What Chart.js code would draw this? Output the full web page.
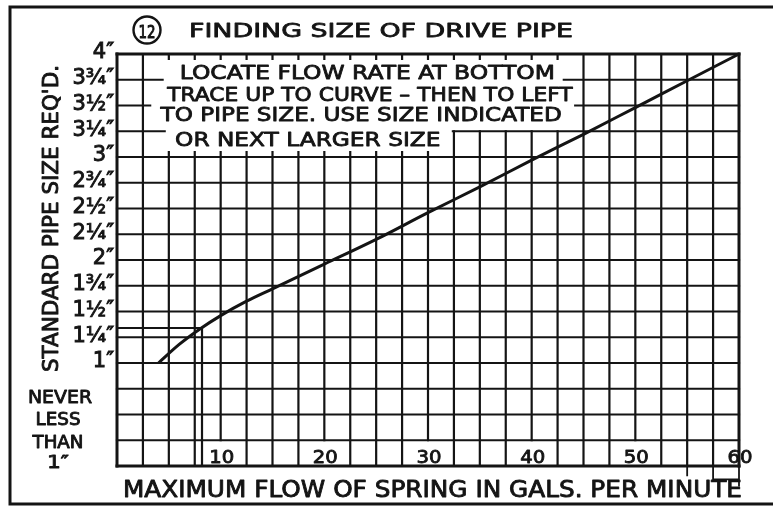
<!DOCTYPE html>
<html>
<head>
<meta charset="utf-8">
<title>Finding size of drive pipe</title>
<style>
  html, body { margin: 0; padding: 0; background: #ffffff; }
  #wrap { width: 773px; height: 509px; }
</style>
</head>
<body>
<div id="wrap"><canvas id="chart" width="773" height="509"></canvas></div>
<script src="https://cdn.jsdelivr.net/npm/chart.js@4/dist/chart.umd.min.js"></script>
<script>
// Spring flow (gallons per minute) against the drive pipe size it calls for (inches)
const flowGpm    = [4, 6, 8, 10, 12.5, 15, 20, 25, 30, 35, 40, 45, 50, 55, 60];
const pipeSizeIn = [1.00, 1.18, 1.33, 1.46, 1.60, 1.72, 1.96, 2.20, 2.46, 2.71, 2.97, 3.22, 3.48, 3.74, 4.00];

// Worked example traced on the chart: about 8 gal/min reads a little over 1 1/4"
const exampleFlow = 8.2;
const exampleSize = 1.34;

// Axis ticks
const sizeTicks      = [1, 1.25, 1.5, 1.75, 2, 2.25, 2.5, 2.75, 3, 3.25, 3.5, 3.75, 4];
const sizeTickLabels = ['1″', '1¼″', '1½″', '1¾″', '2″', '2¼″', '2½″', '2¾″', '3″', '3¼″', '3½″', '3¾″', '4″'];
const flowTicks      = [10, 20, 30, 40, 50, 60];
const flowTickLabels = ['10', '20', '30', '40', '50', '60'];

const FLOW_MAX = 60, FLOW_STEP = 2.5;
const SIZE_MAX = 4, SIZE_STEP = 0.25;

const INK = '#141414';
const FONT = '"DejaVu Sans", "Liberation Sans", sans-serif';
const PEN = 0.9; // extra stroke round the letters for a lettered-by-hand weight

// Where the ruling is left open: the note box in the upper left and the number row
const verticalCuts = [
  { x0: 4.5,  x1: 32.4, y0: 3.00, y1: 4.00, stubTop: true, stubBottom: true },
  { x0: 32.4, x1: 43.1, y0: 3.25, y1: 4.00, stubTop: true },
  { at: flowTicks.filter(v => v < FLOW_MAX), y0: 0, y1: 0.25 }
];
const horizontalCuts = [
  { y: 3.75, x0: 4.4, x1: 43.1 },
  { y: 3.50, x0: 3.2, x1: 44.2 },
  { y: 3.25, x0: 4.6, x1: 32.4 }
];
// Rules that run on a little below the bottom edge
const spillDown = [ { x: 55, to: -0.09 }, { x: 57.5, to: -0.13 }, { x: 60, to: -0.19 } ];
const spillJoin = { y: -0.13, x0: 57.5, x1: 60 };

// Note lines: text, left/right edge and baseline in axis units
const noteLines = [
  { text: 'LOCATE FLOW RATE AT BOTTOM',        x0: 6.05, x1: 42.25, base: 3.757 },
  { text: 'TRACE UP TO CURVE – THEN TO LEFT',  x0: 4.85, x1: 43.95, base: 3.540 },
  { text: 'TO PIPE SIZE. USE SIZE INDICATED',  x0: 4.20, x1: 42.90, base: 3.345 },
  { text: 'OR NEXT LARGER SIZE',               x0: 5.60, x1: 31.20, base: 3.107 }
];

function subtract(segs, a, b) {
  const out = [];
  for (const [s, e] of segs) {
    if (b <= s || a >= e) { out.push([s, e]); continue; }
    if (a > s) out.push([s, a]);
    if (b < e) out.push([b, e]);
  }
  return out;
}

function fitText(ctx, str, xL, xR, yBase, size) {
  ctx.font = 'normal ' + size + 'px ' + FONT;
  const w = ctx.measureText(str).width;
  const sx = (xR - xL) / w;
  ctx.save();
  ctx.translate(xL, yBase);
  ctx.scale(sx, 1);
  ctx.textAlign = 'left';
  ctx.textBaseline = 'alphabetic';
  ctx.lineJoin = 'round';
  ctx.lineWidth = PEN / Math.sqrt(sx);
  ctx.fillText(str, 0, 0);
  ctx.strokeText(str, 0, 0);
  ctx.restore();
}

function centerFit(ctx, str, cx, width, yBase, size) {
  fitText(ctx, str, cx - width / 2, cx + width / 2, yBase, size);
}

const paper = {
  id: 'paper',
  beforeDraw(chart) {
    const { ctx, width, height } = chart;
    ctx.save();
    ctx.fillStyle = '#ffffff';
    ctx.fillRect(0, 0, width, height);
    ctx.restore();
  }
};

const ruling = {
  id: 'ruling',
  beforeDatasetsDraw(chart) {
    const { ctx, scales: { x, y } } = chart;
    const X = v => x.getPixelForValue(v);
    const Y = v => y.getPixelForValue(v);
    const stub = 5 / (Y(0) - Y(1));
    ctx.save();
    ctx.strokeStyle = INK;
    ctx.lineCap = 'square';

    // vertical rules every 2.5 gal/min
    for (let i = 0; i <= FLOW_MAX / FLOW_STEP; i++) {
      const v = i * FLOW_STEP;
      let segs = [[0, SIZE_MAX]];
      const extra = [];
      for (const c of verticalCuts) {
        const hit = c.at ? c.at.includes(v) : (v > c.x0 && v < c.x1);
        if (!hit) continue;
        segs = subtract(segs, c.y0, c.y1);
        if (c.stubTop) extra.push([c.y1 - stub, c.y1]);
        if (c.stubBottom) extra.push([c.y0, c.y0 + stub]);
      }
      ctx.lineWidth = (i === 0 || v === FLOW_MAX) ? 3 : 2.2;
      ctx.beginPath();
      for (const [s, e] of segs.concat(extra)) {
        ctx.moveTo(X(v), Y(s));
        ctx.lineTo(X(v), Y(e));
      }
      ctx.stroke();
    }

    // horizontal rules every quarter inch
    for (let j = 0; j <= SIZE_MAX / SIZE_STEP; j++) {
      const v = j * SIZE_STEP;
      let segs = [[0, FLOW_MAX]];
      for (const c of horizontalCuts) {
        if (Math.abs(c.y - v) < 1e-9) segs = subtract(segs, c.x0, c.x1);
      }
      ctx.lineWidth = (j === 0 || v === SIZE_MAX) ? 3 : 2.2;
      ctx.beginPath();
      for (const [s, e] of segs) {
        ctx.moveTo(X(s), Y(v));
        ctx.lineTo(X(e), Y(v));
      }
      ctx.stroke();
    }

    // short run-overs below the bottom edge
    ctx.lineWidth = 1.8;
    ctx.beginPath();
    for (const s of spillDown) {
      ctx.moveTo(X(s.x), Y(0));
      ctx.lineTo(X(s.x), Y(s.to));
    }
    ctx.moveTo(X(spillJoin.x0), Y(spillJoin.y));
    ctx.lineTo(X(spillJoin.x1), Y(spillJoin.y));
    ctx.stroke();
    ctx.restore();
  }
};

const lettering = {
  id: 'lettering',
  afterDraw(chart) {
    const { ctx, scales: { x, y } } = chart;
    const X = v => x.getPixelForValue(v);
    const Y = v => y.getPixelForValue(v);
    ctx.save();
    ctx.fillStyle = INK;
    ctx.strokeStyle = INK;

    // outer frame
    ctx.lineWidth = 3;
    ctx.beginPath();
    ctx.moveTo(773, 7); ctx.lineTo(10, 7); ctx.lineTo(10, 504); ctx.lineTo(773, 504);
    ctx.stroke();

    // figure number in a circle, then the heading
    ctx.lineWidth = 2.4;
    ctx.beginPath();
    ctx.arc(147, 30, 13.5, 0, Math.PI * 2);
    ctx.stroke();
    fitText(ctx, '12', 138.5, 155.5, 37.5, 18);
    fitText(ctx, 'FINDING SIZE OF DRIVE PIPE', 189, 573, 37, 19);

    // flow numbers set inside the bottom row
    flowTicks.forEach((v, i) => {
      centerFit(ctx, flowTickLabels[i], X(v) + 1, 25, Y(0) - 3, 18);
    });

    // instructions in the open box
    for (const n of noteLines) {
      fitText(ctx, n.text, X(n.x0), X(n.x1), Y(n.base), 20);
    }

    // axis titles
    fitText(ctx, 'MAXIMUM FLOW OF SPRING IN GALS. PER MINUTE', 123, 742, 497, 23);
    ctx.save();
    ctx.translate(58, 372);
    ctx.rotate(-Math.PI / 2);
    fitText(ctx, "STANDARD PIPE SIZE REQ'D.", 0, 307, 0, 22);
    ctx.restore();

    // side remark under the size scale
    centerFit(ctx, 'NEVER', 60, 64, 403, 18);
    centerFit(ctx, 'LESS', 58, 45, 425, 18);
    centerFit(ctx, 'THAN', 58, 51, 448, 18);
    centerFit(ctx, '1″', 58, 22, 468, 18);
    ctx.restore();
  }
};

new Chart(document.getElementById('chart'), {
  type: 'line',
  data: {
    datasets: [
      {
        label: 'Drive pipe size',
        data: flowGpm.map((f, i) => ({ x: f, y: pipeSizeIn[i] })),
        borderColor: INK,
        borderWidth: 3,
        pointRadius: 0,
        cubicInterpolationMode: 'monotone',
        fill: false,
        clip: 4
      },
      {
        label: 'Example',
        data: [
          { x: 0, y: exampleSize },
          { x: exampleFlow, y: exampleSize },
          { x: exampleFlow, y: 0 }
        ],
        borderColor: INK,
        borderWidth: 2.2,
        pointRadius: 0,
        tension: 0,
        fill: false
      }
    ]
  },
  options: {
    responsive: false,
    animation: false,
    devicePixelRatio: 1,
    layout: { padding: { left: 0, top: 54, right: 34, bottom: 0 } },
    plugins: {
      legend: { display: false },
      title: { display: false },
      tooltip: { enabled: false }
    },
    scales: {
      x: {
        type: 'linear',
        min: 0,
        max: FLOW_MAX,
        ticks: { display: false, stepSize: FLOW_STEP },
        grid: { display: false, drawTicks: false },
        border: { display: false },
        afterFit(scale) { scale.height = 43; }
      },
      y: {
        type: 'linear',
        min: 0,
        max: SIZE_MAX,
        ticks: {
          stepSize: SIZE_STEP,
          autoSkip: false,
          padding: 3,
          labelOffset: -1,
          color: INK,
          textStrokeColor: INK,
          textStrokeWidth: PEN,
          font: { family: FONT, size: 21 },
          callback(value) {
            const i = sizeTicks.findIndex(t => Math.abs(t - value) < 1e-6);
            return i >= 0 ? sizeTickLabels[i] : '';
          }
        },
        grid: { display: false, drawTicks: false },
        border: { display: false },
        afterFit(scale) { scale.width = 117; }
      }
    }
  },
  plugins: [paper, ruling, lettering]
});
</script>
</body>
</html>
